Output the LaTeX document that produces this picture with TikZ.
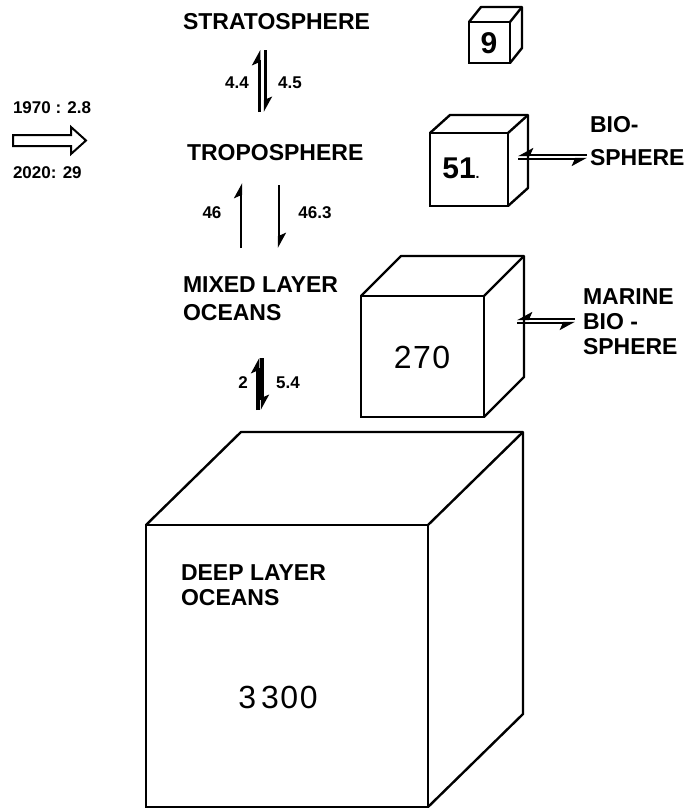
\documentclass[tikz,border=0pt]{standalone}
\usepackage{fontspec}
\setmainfont{Liberation Sans}
\usetikzlibrary{arrows.meta}

\begin{document}
\begin{tikzpicture}[
  x=1pt, y=-1pt,
  every node/.style={inner sep=0pt, outer sep=0pt},
  % reservoir names and the numbers on the exchange arrows
  resname/.style={font=\fontsize{23}{25}\selectfont\bfseries, align=left, anchor=west},
  flux/.style={font=\fontsize{17}{20}\selectfont\bfseries},
  num/.style={font=\fontsize{32}{36}\selectfont},
  % front face of a box; top and side are added below
  face/.style={draw, line width=2.4pt},
  edge/.style={line width=2.4pt, line join=round},
  flow/.style={draw, line width=#1, -{Stealth[harpoon, length=13pt, width=14pt, inset=3pt]}},
  wflow/.style={draw, line width=#1, -{Stealth[harpoon, swap, length=13pt, width=14pt, inset=3pt]}}]

  \useasboundingbox (0,0) rectangle (692,811);

  % boxes (front faces)
  \node[face, minimum width=41,  minimum height=41]  (nine)  at (489.5,42.5) {};
  \node[face, minimum width=78,  minimum height=73]  (fifty) at (469,169.5) {};
  \node[face, minimum width=123, minimum height=121] (mixed) at (422.5,356.5) {};
  \node[face, minimum width=282, minimum height=282] (deep)  at (287,666) {};

  % top and side faces
  \foreach \n/\w/\h/\dx/\dy in {nine/41/41/12/15, fifty/78/73/20/18,
                                mixed/123/121/40/40, deep/282/282/95/93} {
    \draw[edge] (\n.north west) -- ++(\dx,-\dy) -- ++(\w,0) -- ++(0,\h) -- (\n.south east);
    \draw[edge] (\n.north east) -- ++(\dx,-\dy);
  }

  % contents
  \node[num, font=\fontsize{30}{34}\selectfont\bfseries] (n9)  at (489,43)  {9};
  \node[num, font=\fontsize{30}{34}\selectfont\bfseries] (n51) at (461,168) {51{\fontsize{14}{16}\selectfont.}};
  \node[num] (n270)  at (422,357) {2\kern1.5pt7\kern1.5pt0};
  \node[num] (n3300) at (278,697) {3\kern5pt3\kern1.5pt0\kern1.5pt0};

  % reservoir names
  \node[resname] (strat) at (183,22)  {STRATOSPHERE};
  \node[resname] (tropo) at (187,153) {TROPOSPHERE};
  \node[resname] (mlo)   at (183,299) {MIXED LAYER\\[3pt]OCEANS};
  \node[resname] (dlo)   at (181,585) {DEEP LAYER\\OCEANS};
  \node[resname] (bio)   at (590,141) {BIO-\\[8pt]SPHERE};
  \node[resname] (mbio)  at (583,322) {MARINE\\BIO -\\SPHERE};

  % emission input
  \node[flux, anchor=west] (y1970) at (13,108) {1970 : 2.8};
  \node[flux, anchor=west] (y2020) at (13,173) {2020: 29};
  \draw[line width=2pt, line join=miter] (13,135) -- (71,135) -- (71,127) -- (86,140.5)
    -- (71,154) -- (71,146) -- (13,146) -- cycle;

  % arrow ends
  \coordinate (sa) at (259,112); \coordinate (sb) at (259,50);
  \coordinate (sc) at (265,50);  \coordinate (sd) at (265,112);
  \coordinate (ta) at (241,248); \coordinate (tb) at (241,183);
  \coordinate (tc) at (279,185); \coordinate (td) at (279,248);
  \coordinate (ma) at (258,410); \coordinate (mb) at (258,358);
  \coordinate (mc) at (262,358); \coordinate (md) at (262,410);
  \coordinate (ba) at (587,155); \coordinate (bb) at (518,155);
  \coordinate (bc) at (518,159); \coordinate (bd) at (587,159);
  \coordinate (ka) at (575,319); \coordinate (kb) at (517,319);
  \coordinate (kc) at (517,323); \coordinate (kd) at (575,323);

  % exchanges
  \draw[flow=3pt]    (sa) -- (sb);
  \draw[flow=3pt]    (sc) -- (sd);
  \draw[flow=2.4pt]  (ta) -- (tb);
  \draw[flow=2.4pt]  (tc) -- (td);
  \draw[flow=4pt]    (ma) -- (mb);
  \draw[flow=4pt]    (mc) -- (md);
  \draw[wflow=2.4pt] (ba) -- (bb);
  \draw[wflow=2.4pt] (bc) -- (bd);
  \draw[wflow=2.4pt] (ka) -- (kb);
  \draw[wflow=2.4pt] (kc) -- (kd);

  % numbers on the exchanges
  \node[flux] (f44)  at (237,83)  {4.4};
  \node[flux] (f45)  at (290,83)  {4.5};
  \node[flux] (f46)  at (212,213) {46};
  \node[flux] (f463) at (315,213) {46.3};
  \node[flux] (f2)   at (243,383) {2};
  \node[flux] (f54)  at (288,383) {5.4};
\end{tikzpicture}
\end{document}
